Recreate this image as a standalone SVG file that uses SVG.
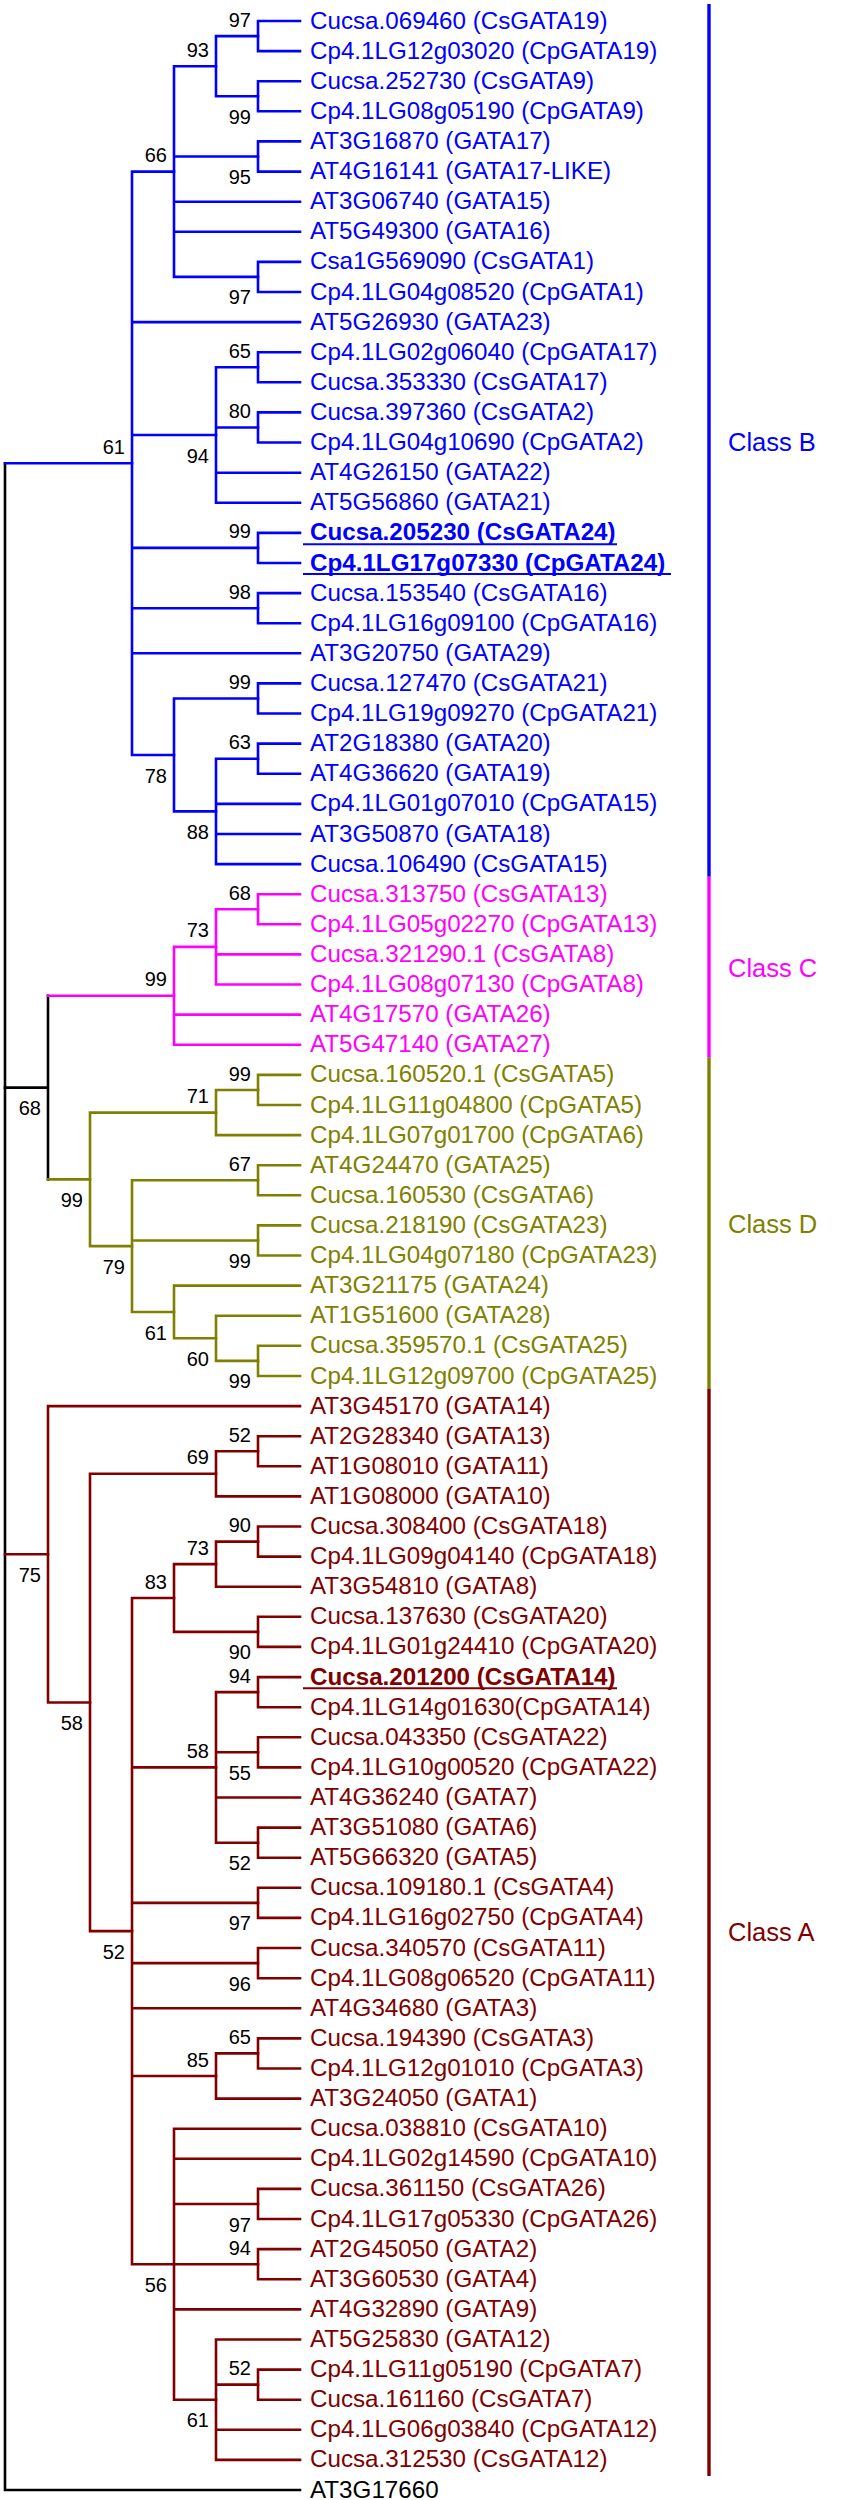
<svg xmlns="http://www.w3.org/2000/svg" width="860" height="2500" viewBox="0 0 860 2500">
<style>
text{font-family:"Liberation Sans",Arial,sans-serif}
.t{font-size:24.2px}
.bo{font-weight:bold}
.s{font-size:20px;text-anchor:end;fill:#000}
.cl{font-size:25.5px}
.b{fill:#0000FF}.c{fill:#FF00FF}.d{fill:#808000}.a{fill:#800000}.k{fill:#000}
.br path{fill:none;stroke-width:2.6;stroke-linecap:square;stroke-linejoin:miter}
.sb path{stroke:#0000FF}.sc path{stroke:#FF00FF}.sd path{stroke:#808000}.sa path{stroke:#800000}.sk path{stroke:#000}
.bar{stroke-width:3.4;fill:none}
.ul{stroke-width:2}
</style>
<rect width="860" height="2500" fill="#fff"/>
<g id="connectors" class="br">
<g class="sk">
<path d="M5,463.3V2490H300"/>
<path d="M48,995.8V1179.4 M5,1087.6H48"/>
</g>
<g class="sb">
<path d="M5,463.3H132"/>
<path d="M132,171.6V755 M132,171.6H174 M132,322.1H300 M132,435H216 M132,547.9H258 M132,608.2H258 M132,653.3H300 M132,755H174"/>
<path d="M174,66.2V276.9 M174,66.2H216 M174,156.5H258 M174,201.7H300 M174,231.8H300 M174,276.9H258"/>
<path d="M258,36.1H216V96.3H258"/>
<path d="M300,21H258V51.1H300"/>
<path d="M300,81.2H258V111.3H300"/>
<path d="M300,141.4H258V171.6H300"/>
<path d="M300,261.9H258V292H300"/>
<path d="M216,367.3V502.8 M216,367.3H258 M216,427.5H258 M216,472.7H300 M216,502.8H300"/>
<path d="M300,352.2H258V382.3H300"/>
<path d="M300,412.4H258V442.5H300"/>
<path d="M300,532.9H258V563H300"/>
<path d="M300,593.1H258V623.2H300"/>
<path d="M258,698.5H174V811.4H216"/>
<path d="M300,683.4H258V713.5H300"/>
<path d="M216,758.7V864.1 M216,758.7H258 M216,803.9H300 M216,834H300 M216,864.1H300"/>
<path d="M300,743.6H258V773.8H300"/>
</g>
<g class="sc">
<path d="M48,995.8H174"/>
<path d="M174,946.9V1044.7 M174,946.9H216 M174,1014.6H300 M174,1044.7H300"/>
<path d="M216,909.3V984.5 M216,909.3H258 M216,954.4H300 M216,984.5H300"/>
<path d="M300,894.2H258V924.3H300"/>
</g>
<g class="sd">
<path d="M48,1179.4H90"/>
<path d="M216,1112.6H90V1246.1H132"/>
<path d="M258,1090H216V1135.1H300"/>
<path d="M300,1074.9H258V1105H300"/>
<path d="M132,1180.2V1312 M132,1180.2H258 M132,1240.5H258 M132,1312H174"/>
<path d="M300,1165.2H258V1195.3H300"/>
<path d="M300,1225.4H258V1255.5H300"/>
<path d="M300,1285.6H174V1338.3H216"/>
<path d="M300,1315.7H216V1360.9H258"/>
<path d="M300,1345.8H258V1376H300"/>
</g>
<g class="sa">
<path d="M5,1554.3H48"/>
<path d="M300,1406.1H48V1702.5H90"/>
<path d="M216,1473.8H90V1931.1H132"/>
<path d="M258,1451.2H216V1496.4H300"/>
<path d="M300,1436.2H258V1466.3H300"/>
<path d="M132,1598V2264.2 M132,1598H174 M132,1767.4H216 M132,1902.9H258 M132,1963.1H258 M132,2008.3H300 M132,2076H216 M132,2264.2H174"/>
<path d="M216,1564.1H174V1631.9H258"/>
<path d="M258,1541.6H216V1586.7H300"/>
<path d="M300,1526.5H258V1556.6H300"/>
<path d="M300,1616.8H258V1646.9H300"/>
<path d="M216,1692.1V1842.7 M216,1692.1H258 M216,1752.3H258 M216,1797.5H300 M216,1842.7H258"/>
<path d="M300,1677.1H258V1707.2H300"/>
<path d="M300,1737.3H258V1767.4H300"/>
<path d="M300,1827.6H258V1857.7H300"/>
<path d="M300,1887.8H258V1917.9H300"/>
<path d="M300,1948H258V1978.2H300"/>
<path d="M258,2053.4H216V2098.6H300"/>
<path d="M300,2038.4H258V2068.5H300"/>
<path d="M174,2128.7V2399.7 M174,2128.7H300 M174,2158.8H300 M174,2204H258 M174,2264.2H258 M174,2309.4H300 M174,2399.7H216"/>
<path d="M300,2188.9H258V2219H300"/>
<path d="M300,2249.1H258V2279.3H300"/>
<path d="M216,2339.5V2459.9 M216,2339.5H300 M216,2384.6H258 M216,2429.8H300 M216,2459.9H300"/>
<path d="M300,2369.6H258V2399.7H300"/>
</g>
</g>
<g id="bootstrap" class="s">
<text x="251" y="26.6">97</text>
<text x="209" y="56.7">93</text>
<text x="251" y="123.8">99</text>
<text x="167" y="162.1">66</text>
<text x="251" y="184">95</text>
<text x="251" y="304.4">97</text>
<text x="251" y="357.8">65</text>
<text x="251" y="418">80</text>
<text x="209" y="462.5">94</text>
<text x="125" y="453.8">61</text>
<text x="251" y="538.4">99</text>
<text x="251" y="598.7">98</text>
<text x="251" y="689">99</text>
<text x="251" y="749.2">63</text>
<text x="167" y="782.5">78</text>
<text x="209" y="838.9">88</text>
<text x="251" y="899.8">68</text>
<text x="209" y="937.4">73</text>
<text x="167" y="986.3">99</text>
<text x="41" y="1115.1">68</text>
<text x="251" y="1080.5">99</text>
<text x="209" y="1103.1">71</text>
<text x="251" y="1170.7">67</text>
<text x="83" y="1206.9">99</text>
<text x="251" y="1268">99</text>
<text x="125" y="1273.6">79</text>
<text x="167" y="1339.5">61</text>
<text x="209" y="1365.8">60</text>
<text x="251" y="1388.4">99</text>
<text x="251" y="1441.7">52</text>
<text x="209" y="1464.3">69</text>
<text x="251" y="1532.1">90</text>
<text x="209" y="1554.6">73</text>
<text x="41" y="1581.8">75</text>
<text x="167" y="1588.5">83</text>
<text x="251" y="1659.4">90</text>
<text x="251" y="1682.6">94</text>
<text x="83" y="1730">58</text>
<text x="209" y="1757.9">58</text>
<text x="251" y="1779.8">55</text>
<text x="251" y="1870.2">52</text>
<text x="251" y="1930.4">97</text>
<text x="125" y="1958.6">52</text>
<text x="251" y="1990.6">96</text>
<text x="251" y="2043.9">65</text>
<text x="209" y="2066.5">85</text>
<text x="251" y="2231.5">97</text>
<text x="251" y="2254.7">94</text>
<text x="167" y="2291.7">56</text>
<text x="251" y="2375.1">52</text>
<text x="209" y="2427.2">61</text>
</g>
<g id="leaves" class="t">
<g id="n01"><text x="310" y="28.5" class="b">Cucsa.069460 (CsGATA19)</text></g>
<g id="n02"><text x="310" y="58.6" class="b">Cp4.1LG12g03020 (CpGATA19)</text></g>
<g id="n03"><text x="310" y="88.7" class="b">Cucsa.252730 (CsGATA9)</text></g>
<g id="n04"><text x="310" y="118.8" class="b">Cp4.1LG08g05190 (CpGATA9)</text></g>
<g id="n05"><text x="310" y="148.9" class="b">AT3G16870 (GATA17)</text></g>
<g id="n06"><text x="310" y="179.1" class="b">AT4G16141 (GATA17-LIKE)</text></g>
<g id="n07"><text x="310" y="209.2" class="b">AT3G06740 (GATA15)</text></g>
<g id="n08"><text x="310" y="239.3" class="b">AT5G49300 (GATA16)</text></g>
<g id="n09"><text x="310" y="269.4" class="b">Csa1G569090 (CsGATA1)</text></g>
<g id="n10"><text x="310" y="299.5" class="b">Cp4.1LG04g08520 (CpGATA1)</text></g>
<g id="n11"><text x="310" y="329.6" class="b">AT5G26930 (GATA23)</text></g>
<g id="n12"><text x="310" y="359.7" class="b">Cp4.1LG02g06040 (CpGATA17)</text></g>
<g id="n13"><text x="310" y="389.8" class="b">Cucsa.353330 (CsGATA17)</text></g>
<g id="n14"><text x="310" y="419.9" class="b">Cucsa.397360 (CsGATA2)</text></g>
<g id="n15"><text x="310" y="450" class="b">Cp4.1LG04g10690 (CpGATA2)</text></g>
<g id="n16"><text x="310" y="480.2" class="b">AT4G26150 (GATA22)</text></g>
<g id="n17"><text x="310" y="510.3" class="b">AT5G56860 (GATA21)</text></g>
<g id="n18"><text x="310" y="540.4" class="b bo">Cucsa.205230 (CsGATA24)</text><line class="ul" x1="303" y1="544.3" x2="617" y2="544.3" stroke="#0000FF"/></g>
<g id="n19"><text x="310" y="570.5" class="b bo">Cp4.1LG17g07330 (CpGATA24)</text><line class="ul" x1="303" y1="574" x2="671" y2="574" stroke="#0000FF"/></g>
<g id="n20"><text x="310" y="600.6" class="b">Cucsa.153540 (CsGATA16)</text></g>
<g id="n21"><text x="310" y="630.7" class="b">Cp4.1LG16g09100 (CpGATA16)</text></g>
<g id="n22"><text x="310" y="660.8" class="b">AT3G20750 (GATA29)</text></g>
<g id="n23"><text x="310" y="690.9" class="b">Cucsa.127470 (CsGATA21)</text></g>
<g id="n24"><text x="310" y="721" class="b">Cp4.1LG19g09270 (CpGATA21)</text></g>
<g id="n25"><text x="310" y="751.1" class="b">AT2G18380 (GATA20)</text></g>
<g id="n26"><text x="310" y="781.3" class="b">AT4G36620 (GATA19)</text></g>
<g id="n27"><text x="310" y="811.4" class="b">Cp4.1LG01g07010 (CpGATA15)</text></g>
<g id="n28"><text x="310" y="841.5" class="b">AT3G50870 (GATA18)</text></g>
<g id="n29"><text x="310" y="871.6" class="b">Cucsa.106490 (CsGATA15)</text></g>
<g id="n30"><text x="310" y="901.7" class="c">Cucsa.313750 (CsGATA13)</text></g>
<g id="n31"><text x="310" y="931.8" class="c">Cp4.1LG05g02270 (CpGATA13)</text></g>
<g id="n32"><text x="310" y="961.9" class="c">Cucsa.321290.1 (CsGATA8)</text></g>
<g id="n33"><text x="310" y="992" class="c">Cp4.1LG08g07130 (CpGATA8)</text></g>
<g id="n34"><text x="310" y="1022.1" class="c">AT4G17570 (GATA26)</text></g>
<g id="n35"><text x="310" y="1052.2" class="c">AT5G47140 (GATA27)</text></g>
<g id="n36"><text x="310" y="1082.4" class="d">Cucsa.160520.1 (CsGATA5)</text></g>
<g id="n37"><text x="310" y="1112.5" class="d">Cp4.1LG11g04800 (CpGATA5)</text></g>
<g id="n38"><text x="310" y="1142.6" class="d">Cp4.1LG07g01700 (CpGATA6)</text></g>
<g id="n39"><text x="310" y="1172.7" class="d">AT4G24470 (GATA25)</text></g>
<g id="n40"><text x="310" y="1202.8" class="d">Cucsa.160530 (CsGATA6)</text></g>
<g id="n41"><text x="310" y="1232.9" class="d">Cucsa.218190 (CsGATA23)</text></g>
<g id="n42"><text x="310" y="1263" class="d">Cp4.1LG04g07180 (CpGATA23)</text></g>
<g id="n43"><text x="310" y="1293.1" class="d">AT3G21175 (GATA24)</text></g>
<g id="n44"><text x="310" y="1323.2" class="d">AT1G51600 (GATA28)</text></g>
<g id="n45"><text x="310" y="1353.3" class="d">Cucsa.359570.1 (CsGATA25)</text></g>
<g id="n46"><text x="310" y="1383.5" class="d">Cp4.1LG12g09700 (CpGATA25)</text></g>
<g id="n47"><text x="310" y="1413.6" class="a">AT3G45170 (GATA14)</text></g>
<g id="n48"><text x="310" y="1443.7" class="a">AT2G28340 (GATA13)</text></g>
<g id="n49"><text x="310" y="1473.8" class="a">AT1G08010 (GATA11)</text></g>
<g id="n50"><text x="310" y="1503.9" class="a">AT1G08000 (GATA10)</text></g>
<g id="n51"><text x="310" y="1534" class="a">Cucsa.308400 (CsGATA18)</text></g>
<g id="n52"><text x="310" y="1564.1" class="a">Cp4.1LG09g04140 (CpGATA18)</text></g>
<g id="n53"><text x="310" y="1594.2" class="a">AT3G54810 (GATA8)</text></g>
<g id="n54"><text x="310" y="1624.3" class="a">Cucsa.137630 (CsGATA20)</text></g>
<g id="n55"><text x="310" y="1654.4" class="a">Cp4.1LG01g24410 (CpGATA20)</text></g>
<g id="n56"><text x="310" y="1684.6" class="a bo">Cucsa.201200 (CsGATA14)</text><line class="ul" x1="303" y1="1688.3" x2="617" y2="1688.3" stroke="#800000"/></g>
<g id="n57"><text x="310" y="1714.7" class="a">Cp4.1LG14g01630(CpGATA14)</text></g>
<g id="n58"><text x="310" y="1744.8" class="a">Cucsa.043350 (CsGATA22)</text></g>
<g id="n59"><text x="310" y="1774.9" class="a">Cp4.1LG10g00520 (CpGATA22)</text></g>
<g id="n60"><text x="310" y="1805" class="a">AT4G36240 (GATA7)</text></g>
<g id="n61"><text x="310" y="1835.1" class="a">AT3G51080 (GATA6)</text></g>
<g id="n62"><text x="310" y="1865.2" class="a">AT5G66320 (GATA5)</text></g>
<g id="n63"><text x="310" y="1895.3" class="a">Cucsa.109180.1 (CsGATA4)</text></g>
<g id="n64"><text x="310" y="1925.4" class="a">Cp4.1LG16g02750 (CpGATA4)</text></g>
<g id="n65"><text x="310" y="1955.5" class="a">Cucsa.340570 (CsGATA11)</text></g>
<g id="n66"><text x="310" y="1985.7" class="a">Cp4.1LG08g06520 (CpGATA11)</text></g>
<g id="n67"><text x="310" y="2015.8" class="a">AT4G34680 (GATA3)</text></g>
<g id="n68"><text x="310" y="2045.9" class="a">Cucsa.194390 (CsGATA3)</text></g>
<g id="n69"><text x="310" y="2076" class="a">Cp4.1LG12g01010 (CpGATA3)</text></g>
<g id="n70"><text x="310" y="2106.1" class="a">AT3G24050 (GATA1)</text></g>
<g id="n71"><text x="310" y="2136.2" class="a">Cucsa.038810 (CsGATA10)</text></g>
<g id="n72"><text x="310" y="2166.3" class="a">Cp4.1LG02g14590 (CpGATA10)</text></g>
<g id="n73"><text x="310" y="2196.4" class="a">Cucsa.361150 (CsGATA26)</text></g>
<g id="n74"><text x="310" y="2226.5" class="a">Cp4.1LG17g05330 (CpGATA26)</text></g>
<g id="n75"><text x="310" y="2256.6" class="a">AT2G45050 (GATA2)</text></g>
<g id="n76"><text x="310" y="2286.8" class="a">AT3G60530 (GATA4)</text></g>
<g id="n77"><text x="310" y="2316.9" class="a">AT4G32890 (GATA9)</text></g>
<g id="n78"><text x="310" y="2347" class="a">AT5G25830 (GATA12)</text></g>
<g id="n79"><text x="310" y="2377.1" class="a">Cp4.1LG11g05190 (CpGATA7)</text></g>
<g id="n80"><text x="310" y="2407.2" class="a">Cucsa.161160 (CsGATA7)</text></g>
<g id="n81"><text x="310" y="2437.3" class="a">Cp4.1LG06g03840 (CpGATA12)</text></g>
<g id="n82"><text x="310" y="2467.4" class="a">Cucsa.312530 (CsGATA12)</text></g>
<g id="n83"><text x="310" y="2497.5" class="k">AT3G17660</text></g>
</g>
<g id="classes">
<g id="classB"><line class="bar" x1="709" y1="4" x2="709" y2="876.7" stroke="#0000FF"/><text x="728" y="450.7" class="cl b">Class B</text></g>
<g id="classC"><line class="bar" x1="709" y1="876.7" x2="709" y2="1057.3" stroke="#FF00FF"/><text x="728" y="976.7" class="cl c">Class C</text></g>
<g id="classD"><line class="bar" x1="709" y1="1057.3" x2="709" y2="1389" stroke="#808000"/><text x="728" y="1233" class="cl d">Class D</text></g>
<g id="classA"><line class="bar" x1="709" y1="1389" x2="709" y2="2476" stroke="#800000"/><text x="728" y="1940.7" class="cl a">Class A</text></g>
</g>
</svg>
